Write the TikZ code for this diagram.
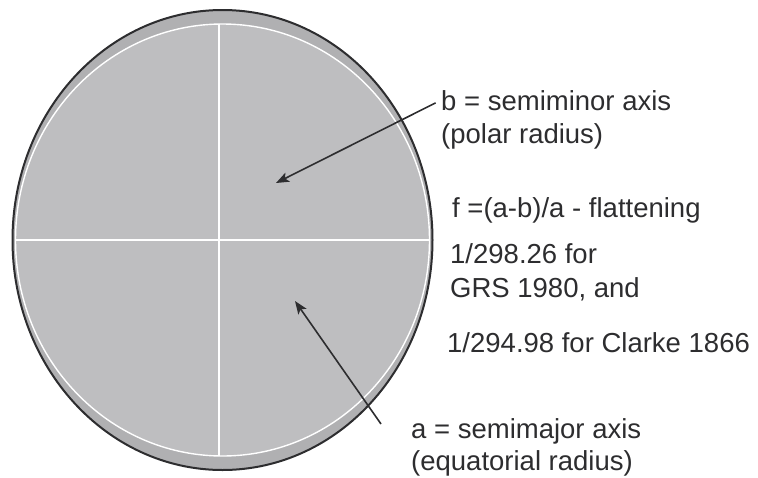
\documentclass[tikz,border=0pt]{standalone}
\usepackage{fontspec}
\setmainfont{Liberation Sans}
\usepackage{tikz}
\usetikzlibrary{arrows.meta,positioning}

\definecolor{bandgray}{RGB}{176,176,178}
\definecolor{earthgray}{RGB}{190,190,192}
\definecolor{inkgray}{RGB}{45,45,47}

\begin{document}
\begin{tikzpicture}[x=1pt,y=-1pt,>={Stealth[length=13pt,width=10pt,inset=3pt]},
  label/.style={anchor=base west,inner sep=0pt,text=inkgray,font=\fontsize{27.5}{33}\selectfont},
  pointer/.style={->,draw=inkgray,line width=1.6pt},
  axisline/.style={draw=white,line width=1.8pt}]

\useasboundingbox (0,0) rectangle (758,477);

% the ellipsoid
\fill[bandgray] (222.5,240) ellipse [x radius=210pt, y radius=230pt];
\fill[earthgray,draw=white,line width=1.4pt] (222.5,240) ellipse [x radius=207pt, y radius=216pt];
\draw[inkgray,line width=2pt] (222.5,240) ellipse [x radius=210pt, y radius=230pt];

\coordinate (top) at (219,24);
\coordinate (bottom) at (219,456);
\coordinate (left) at (15,240);
\coordinate (right) at (430,240);
\draw[axisline] (top) -- (bottom);
\draw[axisline] (left) -- (right);

% texts
\node [label] (semiminor) at (441,110) {b = semiminor axis};
\node [label] (polar) at (441,143) {(polar radius)};
\node [label] (flat) at (452,217) {f =(a-b)/a - flattening};
\node [label] (grsval) at (450,263) {1/298.26 for};
\node [label] (grs) at (450,297) {GRS 1980, and};
\node [label] (clarke) at (447,352) {1/294.98 for Clarke 1866};
\node [label] (semimajor) at (411,438) {a = semimajor axis};
\node [label] (equat) at (411,470) {(equatorial radius)};

\coordinate (bhead) at (276,183);
\coordinate (atail) at (381,424);
\coordinate (ahead) at (295,301);

\draw[pointer,shorten <=6pt] (semiminor.west) to (bhead);
\draw[pointer] (atail) to (ahead);
\end{tikzpicture}
\end{document}
